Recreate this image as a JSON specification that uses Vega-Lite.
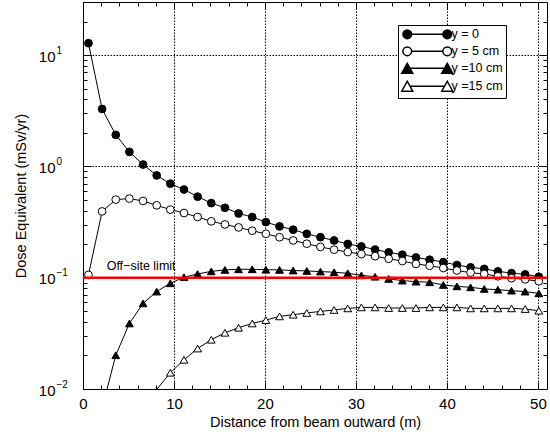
{
  "$schema": "https://vega.github.io/schema/vega-lite/v6.json",
  "width": 464,
  "height": 387,
  "autosize": {"type": "none"},
  "padding": {"left": 83, "top": 2, "right": 3, "bottom": 47},
  "background": "white",
  "config": {
    "font": "Liberation Sans",
    "view": {"stroke": "black", "strokeWidth": 1},
    "axis": {
      "domain": false,
      "labelFont": "Liberation Sans",
      "titleFont": "Liberation Sans",
      "labelColor": "black",
      "titleColor": "black",
      "titleFontWeight": "normal",
      "labelFontSize": 15,
      "titleFontSize": 14.5,
      "tickColor": "black",
      "tickWidth": 1,
      "gridColor": "black",
      "gridDash": [1.5, 1.5],
      "gridWidth": 1,
      "labelFlush": false,
      "labelOverlap": false
    }
  },
  "datasets": {
    "d": [
      {"s": "y = 0", "x": 0.6, "y": 12.8}, {"s": "y = 0", "x": 2.1, "y": 3.28}, {"s": "y = 0", "x": 3.6, "y": 1.92}, {"s": "y = 0", "x": 5.1, "y": 1.35}, {"s": "y = 0", "x": 6.6, "y": 1.04}, {"s": "y = 0", "x": 8.1, "y": 0.83}, {"s": "y = 0", "x": 9.6, "y": 0.70}, {"s": "y = 0", "x": 11.1, "y": 0.62}, {"s": "y = 0", "x": 12.6, "y": 0.535}, {"s": "y = 0", "x": 14.1, "y": 0.468}, {"s": "y = 0", "x": 15.6, "y": 0.425}, {"s": "y = 0", "x": 17.1, "y": 0.378}, {"s": "y = 0", "x": 18.6, "y": 0.351}, {"s": "y = 0", "x": 20.1, "y": 0.316}, {"s": "y = 0", "x": 21.6, "y": 0.289}, {"s": "y = 0", "x": 23.1, "y": 0.270}, {"s": "y = 0", "x": 24.6, "y": 0.248}, {"s": "y = 0", "x": 26.1, "y": 0.231}, {"s": "y = 0", "x": 27.6, "y": 0.216}, {"s": "y = 0", "x": 29.1, "y": 0.201}, {"s": "y = 0", "x": 30.6, "y": 0.191}, {"s": "y = 0", "x": 32.1, "y": 0.179}, {"s": "y = 0", "x": 33.6, "y": 0.169}, {"s": "y = 0", "x": 35.1, "y": 0.161}, {"s": "y = 0", "x": 36.6, "y": 0.152}, {"s": "y = 0", "x": 38.1, "y": 0.145}, {"s": "y = 0", "x": 39.6, "y": 0.138}, {"s": "y = 0", "x": 41.1, "y": 0.130}, {"s": "y = 0", "x": 42.6, "y": 0.124}, {"s": "y = 0", "x": 44.1, "y": 0.120}, {"s": "y = 0", "x": 45.6, "y": 0.114}, {"s": "y = 0", "x": 47.1, "y": 0.110}, {"s": "y = 0", "x": 48.6, "y": 0.107}, {"s": "y = 0", "x": 50.1, "y": 0.102},
      {"s": "y = 5 cm", "x": 0.6, "y": 0.106}, {"s": "y = 5 cm", "x": 2.1, "y": 0.394}, {"s": "y = 5 cm", "x": 3.6, "y": 0.503}, {"s": "y = 5 cm", "x": 5.1, "y": 0.514}, {"s": "y = 5 cm", "x": 6.6, "y": 0.489}, {"s": "y = 5 cm", "x": 8.1, "y": 0.447}, {"s": "y = 5 cm", "x": 9.6, "y": 0.409}, {"s": "y = 5 cm", "x": 11.1, "y": 0.381}, {"s": "y = 5 cm", "x": 12.6, "y": 0.351}, {"s": "y = 5 cm", "x": 14.1, "y": 0.321}, {"s": "y = 5 cm", "x": 15.6, "y": 0.301}, {"s": "y = 5 cm", "x": 17.1, "y": 0.283}, {"s": "y = 5 cm", "x": 18.6, "y": 0.264}, {"s": "y = 5 cm", "x": 20.1, "y": 0.248}, {"s": "y = 5 cm", "x": 21.6, "y": 0.231}, {"s": "y = 5 cm", "x": 23.1, "y": 0.216}, {"s": "y = 5 cm", "x": 24.6, "y": 0.202}, {"s": "y = 5 cm", "x": 26.1, "y": 0.189}, {"s": "y = 5 cm", "x": 27.6, "y": 0.1785}, {"s": "y = 5 cm", "x": 29.1, "y": 0.170}, {"s": "y = 5 cm", "x": 30.6, "y": 0.163}, {"s": "y = 5 cm", "x": 32.1, "y": 0.156}, {"s": "y = 5 cm", "x": 33.6, "y": 0.148}, {"s": "y = 5 cm", "x": 35.1, "y": 0.141}, {"s": "y = 5 cm", "x": 36.6, "y": 0.133}, {"s": "y = 5 cm", "x": 38.1, "y": 0.128}, {"s": "y = 5 cm", "x": 39.6, "y": 0.122}, {"s": "y = 5 cm", "x": 41.1, "y": 0.116}, {"s": "y = 5 cm", "x": 42.6, "y": 0.111}, {"s": "y = 5 cm", "x": 44.1, "y": 0.108}, {"s": "y = 5 cm", "x": 45.6, "y": 0.103}, {"s": "y = 5 cm", "x": 47.1, "y": 0.099}, {"s": "y = 5 cm", "x": 48.6, "y": 0.0966}, {"s": "y = 5 cm", "x": 50.1, "y": 0.0928},
      {"s": "y =10 cm", "x": 2.1, "y": 0.0067}, {"s": "y =10 cm", "x": 3.6, "y": 0.0201}, {"s": "y =10 cm", "x": 5.1, "y": 0.0388}, {"s": "y =10 cm", "x": 6.6, "y": 0.0588}, {"s": "y =10 cm", "x": 8.1, "y": 0.075}, {"s": "y =10 cm", "x": 9.6, "y": 0.0891}, {"s": "y =10 cm", "x": 11.1, "y": 0.101}, {"s": "y =10 cm", "x": 12.6, "y": 0.108}, {"s": "y =10 cm", "x": 14.1, "y": 0.114}, {"s": "y =10 cm", "x": 15.6, "y": 0.1175}, {"s": "y =10 cm", "x": 17.1, "y": 0.119}, {"s": "y =10 cm", "x": 18.6, "y": 0.119}, {"s": "y =10 cm", "x": 20.1, "y": 0.118}, {"s": "y =10 cm", "x": 21.6, "y": 0.1175}, {"s": "y =10 cm", "x": 23.1, "y": 0.116}, {"s": "y =10 cm", "x": 24.6, "y": 0.115}, {"s": "y =10 cm", "x": 26.1, "y": 0.1135}, {"s": "y =10 cm", "x": 27.6, "y": 0.112}, {"s": "y =10 cm", "x": 29.1, "y": 0.1096}, {"s": "y =10 cm", "x": 30.6, "y": 0.105}, {"s": "y =10 cm", "x": 32.1, "y": 0.102}, {"s": "y =10 cm", "x": 33.6, "y": 0.0975}, {"s": "y =10 cm", "x": 35.1, "y": 0.0942}, {"s": "y =10 cm", "x": 36.6, "y": 0.0922}, {"s": "y =10 cm", "x": 38.1, "y": 0.091}, {"s": "y =10 cm", "x": 39.6, "y": 0.0861}, {"s": "y =10 cm", "x": 41.1, "y": 0.0836}, {"s": "y =10 cm", "x": 42.6, "y": 0.0819}, {"s": "y =10 cm", "x": 44.1, "y": 0.0793}, {"s": "y =10 cm", "x": 45.6, "y": 0.078}, {"s": "y =10 cm", "x": 47.1, "y": 0.0765}, {"s": "y =10 cm", "x": 48.6, "y": 0.075}, {"s": "y =10 cm", "x": 50.1, "y": 0.0723},
      {"s": "y =15 cm", "x": 8.1, "y": 0.0099}, {"s": "y =15 cm", "x": 9.6, "y": 0.0140}, {"s": "y =15 cm", "x": 11.1, "y": 0.0183}, {"s": "y =15 cm", "x": 12.6, "y": 0.0231}, {"s": "y =15 cm", "x": 14.1, "y": 0.0277}, {"s": "y =15 cm", "x": 15.6, "y": 0.0320}, {"s": "y =15 cm", "x": 17.1, "y": 0.0355}, {"s": "y =15 cm", "x": 18.6, "y": 0.0388}, {"s": "y =15 cm", "x": 20.1, "y": 0.0416}, {"s": "y =15 cm", "x": 21.6, "y": 0.0449}, {"s": "y =15 cm", "x": 23.1, "y": 0.0465}, {"s": "y =15 cm", "x": 24.6, "y": 0.0482}, {"s": "y =15 cm", "x": 26.1, "y": 0.0498}, {"s": "y =15 cm", "x": 27.6, "y": 0.0513}, {"s": "y =15 cm", "x": 29.1, "y": 0.053}, {"s": "y =15 cm", "x": 30.6, "y": 0.0541}, {"s": "y =15 cm", "x": 32.1, "y": 0.0541}, {"s": "y =15 cm", "x": 33.6, "y": 0.0534}, {"s": "y =15 cm", "x": 35.1, "y": 0.0534}, {"s": "y =15 cm", "x": 36.6, "y": 0.0534}, {"s": "y =15 cm", "x": 38.1, "y": 0.0541}, {"s": "y =15 cm", "x": 39.6, "y": 0.0541}, {"s": "y =15 cm", "x": 41.1, "y": 0.0541}, {"s": "y =15 cm", "x": 42.6, "y": 0.053}, {"s": "y =15 cm", "x": 44.1, "y": 0.053}, {"s": "y =15 cm", "x": 45.6, "y": 0.053}, {"s": "y =15 cm", "x": 47.1, "y": 0.053}, {"s": "y =15 cm", "x": 48.6, "y": 0.0523}, {"s": "y =15 cm", "x": 50.1, "y": 0.0505}
    ],
    "limit": [{"label": "Off−site limit", "value": 0.1, "lx": 2.6, "ly": 0.118}]
  },
  "layer": [
    {
      "data": {"name": "d"},
      "mark": {"type": "line", "clip": true, "color": "black", "strokeWidth": 1},
      "encoding": {
        "x": {
          "field": "x", "type": "quantitative",
          "scale": {"domain": [0, 51], "nice": false, "zero": false},
          "axis": {
            "orient": "bottom", "title": null, "labels": false,
            "values": [0, 2, 4, 6, 8, 10, 12, 14, 16, 18, 20, 22, 24, 26, 28, 30, 32, 34, 36, 38, 40, 42, 44, 46, 48, 50],
            "grid": true,
            "gridOpacity": {"condition": {"test": "datum.value % 10 === 0 && datum.value > 0", "value": 1}, "value": 0},
            "tickSize": {"condition": {"test": "datum.value % 10 === 0", "value": -7}, "value": -4}
          }
        },
        "y": {
          "field": "y", "type": "quantitative",
          "scale": {"type": "log", "domain": [0.01, 30], "nice": false},
          "axis": {
            "orient": "left", "title": null, "labels": false,
            "values": [0.01, 0.02, 0.03, 0.04, 0.05, 0.06, 0.07, 0.08, 0.09, 0.1, 0.2, 0.3, 0.4, 0.5, 0.6, 0.7, 0.8, 0.9, 1, 2, 3, 4, 5, 6, 7, 8, 9, 10, 20, 30],
            "grid": true,
            "gridOpacity": {"condition": {"test": "datum.value == 0.1 || datum.value == 1 || datum.value == 10", "value": 1}, "value": 0},
            "tickSize": {"condition": {"test": "datum.value == 0.01 || datum.value == 0.1 || datum.value == 1 || datum.value == 10", "value": -8}, "value": -4}
          }
        },
        "detail": {"field": "s"}
      }
    },
    {
      "data": {"name": "d"},
      "transform": [{"filter": "datum.y >= 0.01"}],
      "mark": {"type": "point", "filled": true, "size": 60, "stroke": "black", "strokeWidth": 1, "opacity": 1, "clip": true},
      "encoding": {
        "x": {
          "field": "x", "type": "quantitative",
          "axis": {
            "orient": "top", "title": null, "labels": false, "grid": false,
            "values": [0, 2, 4, 6, 8, 10, 12, 14, 16, 18, 20, 22, 24, 26, 28, 30, 32, 34, 36, 38, 40, 42, 44, 46, 48, 50],
            "tickSize": {"condition": {"test": "datum.value % 10 === 0", "value": -7}, "value": -4}
          }
        },
        "y": {
          "field": "y", "type": "quantitative",
          "axis": {
            "orient": "right", "title": null, "labels": false, "grid": false,
            "values": [0.01, 0.02, 0.03, 0.04, 0.05, 0.06, 0.07, 0.08, 0.09, 0.1, 0.2, 0.3, 0.4, 0.5, 0.6, 0.7, 0.8, 0.9, 1, 2, 3, 4, 5, 6, 7, 8, 9, 10, 20, 30],
            "tickSize": {"condition": {"test": "datum.value == 0.01 || datum.value == 0.1 || datum.value == 1 || datum.value == 10", "value": -8}, "value": -4}
          }
        },
        "shape": {
          "field": "s", "type": "nominal",
          "scale": {"domain": ["y = 0", "y = 5 cm", "y =10 cm", "y =15 cm"], "range": ["circle", "circle", "triangle-up", "triangle-up"]},
          "legend": null
        },
        "fill": {
          "field": "s", "type": "nominal",
          "scale": {"domain": ["y = 0", "y = 5 cm", "y =10 cm", "y =15 cm"], "range": ["black", "white", "black", "white"]},
          "legend": null
        }
      }
    },
    {
      "data": {"name": "limit"},
      "mark": {"type": "rule", "color": "#ff0000", "strokeWidth": 2.5},
      "encoding": {
        "y": {
          "field": "value", "type": "quantitative",
          "axis": {
            "orient": "left", "title": "Dose Equivalent (mSv/yr)", "ticks": false, "grid": false,
            "values": [0.01, 0.1, 1, 10],
            "labelExpr": "'10'",
            "labelAlign": "right", "labelBaseline": "middle",
            "labelPadding": 28, "labelOffset": 1,
            "titlePadding": 10
          }
        }
      }
    },
    {
      "data": {"name": "limit"},
      "mark": {"type": "text", "align": "left", "baseline": "alphabetic", "fontSize": 12.5, "font": "Liberation Sans", "color": "black"},
      "encoding": {
        "text": {"field": "label"},
        "x": {
          "field": "lx", "type": "quantitative",
          "axis": {
            "orient": "bottom", "title": "Distance from beam outward (m)", "ticks": false, "grid": false,
            "values": [0, 10, 20, 30, 40, 50],
            "labelPadding": 7, "titlePadding": 4
          }
        },
        "y": {
          "field": "ly", "type": "quantitative",
          "axis": {
            "orient": "left", "title": null, "ticks": false, "grid": false,
            "values": [0.01, 0.1, 1, 10],
            "labelExpr": "datum.value == 0.01 ? '−2' : datum.value == 0.1 ? '−1' : datum.value == 1 ? '0' : '1'",
            "labelAlign": "left", "labelBaseline": "middle", "labelFontSize": 10,
            "labelPadding": 27, "labelOffset": -5
          }
        }
      }
    },
    {
      "data": {"name": "d"},
      "transform": [{"filter": "false"}],
      "mark": {"type": "point", "filled": true, "size": 64, "stroke": "black", "strokeWidth": 1, "opacity": 1},
      "encoding": {
        "shape": {
          "field": "s", "type": "nominal",
          "scale": {
            "domain": ["y = 0", "y = 5 cm", "y =10 cm", "y =15 cm"],
            "range": [
              "M0.875,0 A0.875,0.875 0 1,1 -0.875,0 A0.875,0.875 0 1,1 0.875,0 Z M0.875,0 L7.125,0 M8.875,0 A0.875,0.875 0 1,1 7.125,0 A0.875,0.875 0 1,1 8.875,0 Z",
              "M0.875,0 A0.875,0.875 0 1,1 -0.875,0 A0.875,0.875 0 1,1 0.875,0 Z M0.875,0 L7.125,0 M8.875,0 A0.875,0.875 0 1,1 7.125,0 A0.875,0.875 0 1,1 8.875,0 Z",
              "M0,-1 L1.1,1 L-1.1,1 Z M0.55,0 L7.45,0 M8,-1 L9.1,1 L6.9,1 Z",
              "M0,-1 L1.1,1 L-1.1,1 Z M0.55,0 L7.45,0 M8,-1 L9.1,1 L6.9,1 Z"
            ]
          },
          "legend": {
            "title": null, "orient": "none", "legendX": 315, "legendY": 23,
            "padding": 3, "strokeColor": "black", "fillColor": "white",
            "labelFontSize": 12.5, "labelFont": "Liberation Sans", "labelColor": "black",
            "labelOffset": 38, "rowPadding": 1,
            "encode": {"symbols": {"update": {"stroke": {"value": "black"}, "strokeWidth": {"value": 1}}}}
          }
        },
        "fill": {
          "field": "s", "type": "nominal",
          "scale": {"domain": ["y = 0", "y = 5 cm", "y =10 cm", "y =15 cm"], "range": ["black", "white", "black", "white"]},
          "legend": {
            "title": null, "orient": "none", "legendX": 315, "legendY": 23,
            "padding": 3, "strokeColor": "black", "fillColor": "white",
            "labelFontSize": 12.5, "labelFont": "Liberation Sans", "labelColor": "black",
            "labelOffset": 38, "rowPadding": 1,
            "encode": {"symbols": {"update": {"stroke": {"value": "black"}, "strokeWidth": {"value": 1}}}}
          }
        }
      }
    }
  ],
  "resolve": {
    "axis": {"x": "independent", "y": "independent"},
    "scale": {"shape": "independent", "fill": "independent"}
  }
}
